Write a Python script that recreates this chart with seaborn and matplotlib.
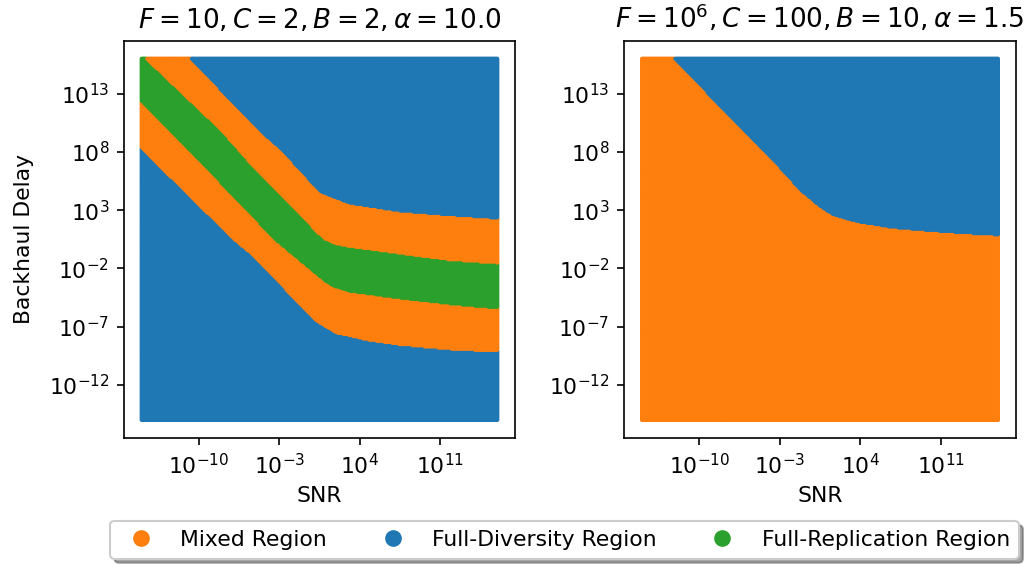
import numpy as np
import pandas as pd
import matplotlib
matplotlib.use("Agg")
import matplotlib.pyplot as plt
from matplotlib.lines import Line2D
from matplotlib.ticker import NullLocator
import seaborn as sns

# ---- data (log10 values) ----
grid_exp_min = -15
grid_exp_max = 16
grid_points = 320

region_names = ["Mixed Region", "Full-Diversity Region", "Full-Replication Region"]
region_colors = ["#ff7f0e", "#1f77b4", "#2ca02c"]

titles = [r"$F = 10, C = 2, B = 2, \alpha = 10.0$",
          r"$F = 10^6, C = 100, B = 10, \alpha = 1.5$"]

# left panel boundaries (log10 SNR -> log10 delay), from top to bottom
left_b1_snr = [-16, -10.66, -4.73, -2.76, 0.56, 2.01, 3.17, 7.51, 11.85, 16.02]
left_b1_delay = [21.3, 16.0, 9.91, 8.20, 4.63, 4.06, 3.63, 2.97, 2.63, 2.35]
left_b2_snr = [-16, -14.57, -8.06, -5.51, 0.28, 0.9, 1.8, 3.17, 7.51, 11.85, 16.02]
left_b2_delay = [17.4, 16.0, 9.91, 7.06, 1.20, 0.60, 0.20, -0.08, -0.65, -1.22, -1.50]
left_b3_snr = [-16, -15.3, -12.54, -5.51, -3.58, 0.28, 1.0, 1.8, 3.17, 7.51, 11.85, 16.02]
left_b3_delay = [13.3, 12.62, 9.91, 2.78, 0.70, -2.45, -3.05, -3.50, -3.93, -4.50, -4.99, -5.36]
left_b4_snr = [-16, -15.3, -6.90, -5.51, 0.28, 2.01, 4.62, 7.51, 11.85, 16.02]
left_b4_delay = [9.3, 8.63, 0.49, -0.65, -6.50, -7.50, -8.07, -8.50, -8.87, -9.07]

# right panel boundary
right_b_snr = [-16, -12.14, -2.93, -1.20, 0.54, 1.69, 3.72, 6.61, 10.09, 13.27, 16.02]
right_b_delay = [19.9, 16.0, 6.65, 4.77, 3.34, 2.63, 2.06, 1.58, 1.29, 1.06, 0.92]

xticks = [1e-10, 1e-3, 1e4, 1e11]
yticks = [1e-12, 1e-7, 1e-2, 1e3, 1e8, 1e13]

# ---- build grids ----
ge = np.linspace(grid_exp_min, grid_exp_max, grid_points)
GX, GY = np.meshgrid(ge, ge)
gx = GX.ravel()
gy = GY.ravel()

b1 = np.interp(gx, left_b1_snr, left_b1_delay)
b2 = np.interp(gx, left_b2_snr, left_b2_delay)
b3 = np.interp(gx, left_b3_snr, left_b3_delay)
b4 = np.interp(gx, left_b4_snr, left_b4_delay)
left_region = np.where(gy >= b1, region_names[1],
               np.where(gy >= b2, region_names[0],
               np.where(gy >= b3, region_names[2],
               np.where(gy >= b4, region_names[0], region_names[1]))))

br = np.interp(gx, right_b_snr, right_b_delay)
right_region = np.where(gy >= br, region_names[1], region_names[0])

df_left = pd.DataFrame({"SNR": 10.0 ** gx, "Delay": 10.0 ** gy, "Region": left_region})
df_right = pd.DataFrame({"SNR": 10.0 ** gx, "Delay": 10.0 ** gy, "Region": right_region})

palette = dict(zip(region_names, region_colors))

# ---- figure ----
fs = 10.5
plt.rcParams["font.size"] = fs
fig = plt.figure(figsize=(1031 / 150, 564 / 150), dpi=150)
W, H = 1031, 564
ax1 = fig.add_axes([124 / W, 1 - 438 / H, 391 / W, 397.3 / H])
ax2 = fig.add_axes([624.3 / W, 1 - 438 / H, 391.4 / W, 397.3 / H])

for ax, df, title in [(ax1, df_left, titles[0]), (ax2, df_right, titles[1])]:
    sns.scatterplot(data=df, x="SNR", y="Delay", hue="Region", palette=palette,
                    hue_order=region_names, s=4, linewidth=0, edgecolor="none",
                    legend=False, ax=ax, rasterized=True)
    ax.set_xscale("log")
    ax.set_yscale("log")
    ax.set_xticks(xticks)
    ax.set_yticks(yticks)
    ax.xaxis.set_minor_locator(NullLocator())
    ax.yaxis.set_minor_locator(NullLocator())
    ax.tick_params(labelsize=fs)
    ax.set_title(title, fontsize=fs * 1.2)
    ax.set_xlabel("SNR", fontsize=fs)
    ax.set_ylabel("")

ax1.set_ylabel("Backhaul Delay", fontsize=fs, labelpad=7)

handles = [Line2D([0], [0], marker="o", linestyle="", color=c, markersize=7)
           for c in region_colors]
fig.legend(handles, region_names, loc="upper center", ncol=3, fontsize=fs,
           bbox_to_anchor=(564.5 / W, (564 - 521 + 10.9) / H),
           fancybox=True, shadow=True)

fig.savefig("out.png", dpi=150)
